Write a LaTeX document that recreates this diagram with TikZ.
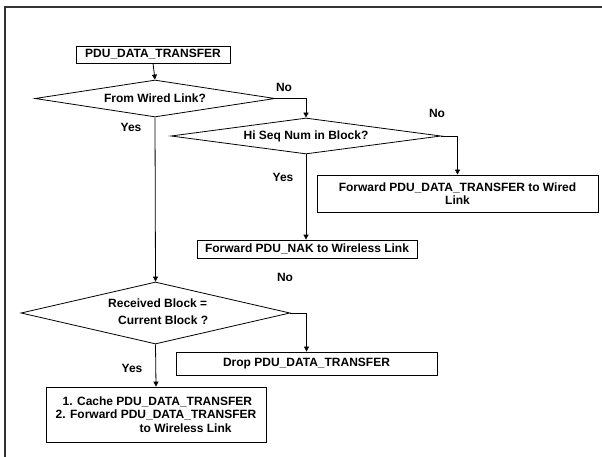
\documentclass[tikz,border=0pt]{standalone}
\usepackage{fontspec}
\setmainfont{Liberation Sans}
\usetikzlibrary{shapes.geometric,arrows.meta}
\begin{document}
\begin{tikzpicture}[x=1pt,y=-1pt,
  every node/.style={font=\bfseries\fontsize{12}{13.5}\selectfont, inner sep=0pt},
  procbox/.style={draw, line width=0.8pt, rectangle},
  decision/.style={draw, line width=0.8pt, diamond},
  flow/.style={line width=0.8pt, -{Triangle[length=5pt,width=5pt]}},
  lbl/.style={anchor=center}]
\useasboundingbox (0,0) rectangle (602,457);
\draw[line width=1.5pt, black!80] (5,457) -- (5,7) -- (602,7);

\node[procbox, minimum width=154pt, minimum height=17pt] (start) at (153,54.5) {PDU\_DATA\_TRANSFER};
\node[decision, minimum width=240pt, minimum height=37pt, aspect=6.5] (d1) at (155,98.5) {From Wired Link?};
\node[decision, minimum width=270pt, minimum height=36pt, aspect=7.5] (d2) at (306,136) {Hi Seq Num in Block?};
\node[procbox, minimum width=281pt, minimum height=37pt, align=center] (wired) at (457.5,193.5) {Forward PDU\_DATA\_TRANSFER to Wired\\Link};
\node[procbox, minimum width=220pt, minimum height=18pt] (nak) at (307,249) {Forward PDU\_NAK to Wireless Link};
\node[decision, minimum width=269pt, minimum height=62pt, aspect=4.3] (d3) at (155.5,313) {};
\node[anchor=west, align=left, font=\bfseries\fontsize{12}{17}\selectfont] (d3t) at (108,311.5) {Received Block =\\\hspace*{10pt}Current Block ?};
\node[procbox, minimum width=261pt, minimum height=23pt] (drop) at (306.5,363.5) {Drop PDU\_DATA\_TRANSFER};
\node[procbox, minimum width=220pt, minimum height=55pt, align=left] (final) at (156,414.5) {\hspace*{7pt}1. Cache PDU\_DATA\_TRANSFER\\2. Forward PDU\_DATA\_TRANSFER\\\hspace*{84pt}to Wireless Link};

\node[lbl] (no1) at (284,87) {No};
\node[lbl] (yes1) at (131,127) {Yes};
\node[lbl] (no2) at (437,113) {No};
\node[lbl] (yes2) at (283,177) {Yes};
\node[lbl] (no3) at (285,277) {No};
\node[lbl] (yes3) at (132,368) {Yes};

\draw[flow] (start.south) -- (d1.north);
\draw[flow] (d1.east) -| (d2.north);
\draw[flow] (d2.east) -| (wired.north);
\draw[flow] (d2.south) -- (d2.south |- nak.north);
\draw[flow] (d1.south) -- (d3.north);
\draw[flow] (d3.east) -| (drop.north);
\draw[flow] (d3.south) -- (final.north);
\end{tikzpicture}
\end{document}
